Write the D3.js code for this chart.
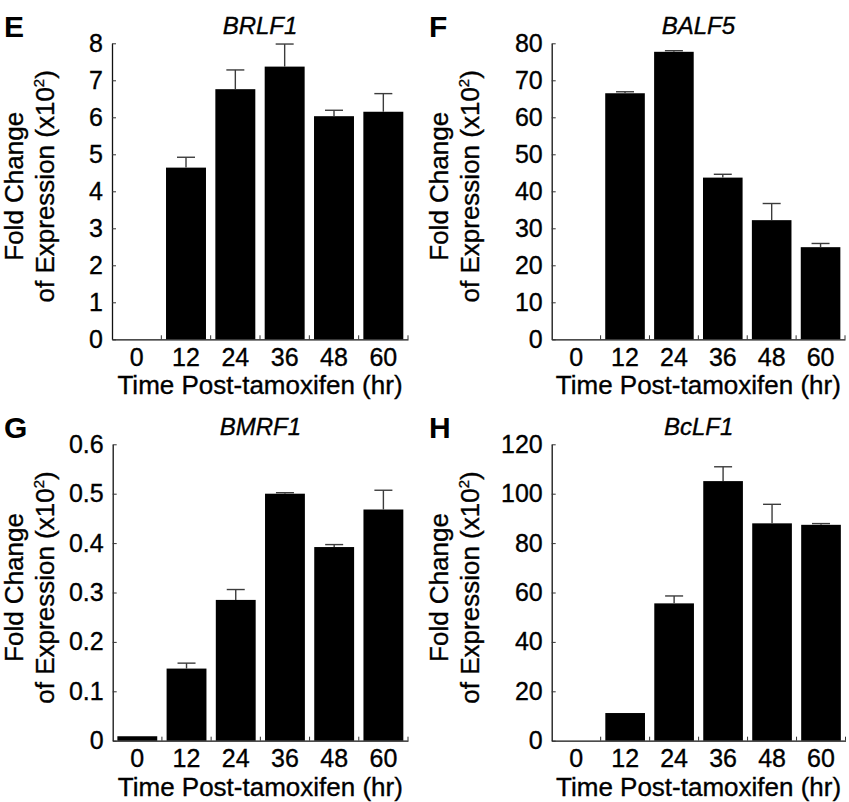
<!DOCTYPE html>
<html>
<head>
<meta charset="utf-8">
<script src="https://cdn.jsdelivr.net/npm/d3@7"></script>
<style>
  body { margin: 0; background: #fff; }
  svg { display: block; font-family: "Liberation Sans", Arial, Helvetica, sans-serif; }
  .lbl { stroke: #000; stroke-width: 0.35px; }
</style>
</head>
<body>
<div id="chart"></div>
<script>
// time points (hr)
const hours = ["0", "12", "24", "36", "48", "60"];

// fold change of expression (x10^2)
const brlf1 = [0, 4.64, 6.76, 7.37, 6.03, 6.15];
const brlf1Err = [0, 0.28, 0.52, 0.61, 0.16, 0.49];

const balf5 = [0, 66.5, 77.7, 43.7, 32.2, 24.9];
const balf5Err = [0, 0.4, 0.3, 0.9, 4.5, 1.0];

const bmrf1 = [0.009, 0.146, 0.285, 0.500, 0.392, 0.468];
const bmrf1Err = [0, 0.011, 0.021, 0.002, 0.005, 0.039];

const bclf1 = [0, 11.2, 55.6, 105.1, 88.0, 87.4];
const bclf1Err = [0, 0, 3.0, 5.8, 7.7, 0.5];

// y tick labels
const ticksE = [0, 1, 2, 3, 4, 5, 6, 7, 8];
const ticksF = [0, 10, 20, 30, 40, 50, 60, 70, 80];
const ticksG = [0, 0.1, 0.2, 0.3, 0.4, 0.5, 0.6];
const ticksH = [0, 20, 40, 60, 80, 100, 120];

const width = 849
const height = 802

// panel layout (pixels)
const panels = [
    { letter: "E", gene: "BRLF1", values: brlf1, errs: brlf1Err, ticks: ticksE, ox: 0, oy: 0, left: 112, right: 408, top: 43.3, bottom: 339.3 },
    { letter: "F", gene: "BALF5", values: balf5, errs: balf5Err, ticks: ticksF, ox: 425, oy: 0, left: 551.7, right: 845, top: 43.3, bottom: 339.3 },
    { letter: "G", gene: "BMRF1", values: bmrf1, errs: bmrf1Err, ticks: ticksG, ox: 0, oy: 401, left: 112.7, right: 408, top: 444.3, bottom: 740.7 },
    { letter: "H", gene: "BcLF1", values: bclf1, errs: bclf1Err, ticks: ticksH, ox: 425, oy: 401, left: 551.7, right: 845.5, top: 444.3, bottom: 740.7 }
];

const svg = d3.select("#chart")
    .append("svg")
    .attr("width", width)
    .attr("height", height)

let drawPanel = (p) => {
    let g = svg.append("g")

    let x = d3.scaleBand()
        .domain(hours)
        .range([p.left, p.right])
        .padding(0)

    let y = d3.scaleLinear()
        .domain([0, d3.max(p.ticks)])
        .range([p.bottom, p.top])

    let barW = x.bandwidth() * 0.81
    let inset = (x.bandwidth() - barW) / 2

    // bars
    g.append("g")
        .selectAll("rect")
        .data(p.values)
        .enter()
        .append("rect")
        .attr("x", (d, i) => x(hours[i]) + inset)
        .attr("width", barW)
        .attr("y", d => y(d))
        .attr("height", d => y(0) - y(d))
        .attr("fill", "#000")

    // error bars (upper only)
    let eb = g.append("g")
        .attr("stroke", "#3c3c3c")
        .attr("stroke-width", 1.4)
        .selectAll("g")
        .data(p.values.map((v, i) => ({ v: v, e: p.errs[i], h: hours[i] })).filter(d => d.e > 0))
        .enter()
        .append("g")
    eb.append("line")
        .attr("x1", d => x(d.h) + x.bandwidth() / 2)
        .attr("x2", d => x(d.h) + x.bandwidth() / 2)
        .attr("y1", d => y(d.v))
        .attr("y2", d => y(d.v + d.e))
    eb.append("line")
        .attr("x1", d => x(d.h) + x.bandwidth() / 2 - 9)
        .attr("x2", d => x(d.h) + x.bandwidth() / 2 + 9)
        .attr("y1", d => y(d.v + d.e))
        .attr("y2", d => y(d.v + d.e))

    // x axis
    let xAxis = g.append("g")
        .attr("transform", `translate(0,${p.bottom})`)
        .call(d3.axisBottom(x).tickSize(0).tickPadding(9).tickSizeOuter(0))
    xAxis.select(".domain").attr("stroke", "#111").attr("stroke-width", 1.3)
    xAxis.selectAll("text").attr("font-size", 25).attr("fill", "#000").attr("font-family", null).attr("class", "lbl")

    // small inward ticks at the band boundaries
    g.append("g")
        .attr("stroke", "#333")
        .attr("stroke-width", 1)
        .selectAll("line")
        .data(hours)
        .enter()
        .append("line")
        .attr("x1", d => x(d) + x.bandwidth())
        .attr("x2", d => x(d) + x.bandwidth())
        .attr("y1", p.bottom)
        .attr("y2", p.bottom - 4)

    // y axis
    let yAxis = g.append("g")
        .attr("transform", `translate(${p.left},0)`)
        .call(d3.axisLeft(y).tickValues(p.ticks).tickFormat(d => String(d))
            .tickSizeInner(-4).tickSizeOuter(0).tickPadding(9))
    yAxis.select(".domain").attr("stroke", "#111").attr("stroke-width", 1.3)
    yAxis.selectAll(".tick line").attr("stroke", "#333")
    yAxis.selectAll("text").attr("font-size", 25).attr("fill", "#000").attr("font-family", null).attr("class", "lbl")

    // panel letter
    g.append("text")
        .attr("x", p.ox + 4)
        .attr("y", p.oy + 37)
        .attr("font-size", 30)
        .attr("font-weight", "bold")
        .text(p.letter)

    // gene title
    g.append("text")
        .attr("x", (p.left + p.right) / 2)
        .attr("y", p.top - 9)
        .attr("text-anchor", "middle")
        .attr("font-size", 24)
        .attr("font-style", "italic")
        .attr("class", "lbl")
        .text(p.gene)

    // x axis title
    g.append("text")
        .attr("x", (p.left + p.right) / 2)
        .attr("y", p.bottom + 55)
        .attr("text-anchor", "middle")
        .attr("font-size", 26)
        .attr("class", "lbl")
        .text("Time Post-tamoxifen (hr)")

    // y axis title, two lines
    let midY = (p.top + p.bottom) / 2 - 5
    g.append("text")
        .attr("transform", `translate(${p.ox + 23},${midY}) rotate(-90)`)
        .attr("text-anchor", "middle")
        .attr("font-size", 26)
        .attr("class", "lbl")
        .text("Fold Change")
    let t2 = g.append("text")
        .attr("transform", `translate(${p.ox + 54},${midY}) rotate(-90)`)
        .attr("text-anchor", "middle")
        .attr("font-size", 26)
        .attr("class", "lbl")
    t2.append("tspan").text("of Expression (x10")
    t2.append("tspan").attr("font-size", 15).attr("dy", -10).text("2")
    t2.append("tspan").attr("dy", 10).text(")")
}

panels.forEach(drawPanel)
</script>
</body>
</html>
